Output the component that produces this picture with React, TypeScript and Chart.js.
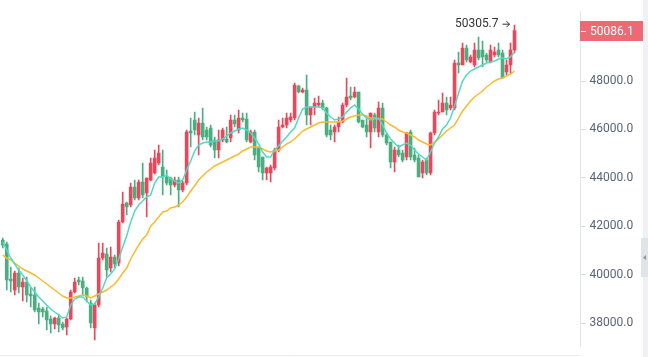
import React, { useEffect, useRef } from 'react';
import { Chart, registerables } from 'chart.js';

Chart.register(...registerables);

// ---- data ----
const opens = [
  41430, 41265, 39819, 39364, 40067, 39488, 39695, 39199, 39158, 38620,
  38579, 38496, 38166, 37959, 38207, 37959, 37835, 38166, 39282, 39777,
  39736, 39447, 38827, 37794, 38744, 40686, 40852, 40273, 40728, 40480,
  42174, 42959, 42876, 43620, 43166, 43827, 43372, 43909, 44199, 44612,
  44446, 44033, 43992, 43703, 43909, 43496, 43785, 45934, 46389, 45769,
  46265, 45975, 46058, 45562, 45149, 45562, 45604, 45645, 46389, 45975,
  46471, 46430, 45480, 45893, 45232, 44860, 44199, 44199, 44405, 45149,
  46099, 46182, 46389, 46471, 47794, 47546, 47628, 46595, 46926, 47008,
  47091, 46884, 45975, 45893, 46099, 46306, 47008, 47380, 47339, 47546,
  46389, 46182, 45893, 46595, 45893, 46884, 45769, 45480, 44653, 45149,
  45025, 44860, 45893, 44942, 44818, 44199, 44736, 44199, 45851, 46678,
  46719, 47091, 46884, 46884, 48744, 48661, 49364, 48785, 48661, 49281,
  49281, 49074, 48785, 49074, 49281, 49157, 48372, 48661, 49281,
];
const highs = [
  41513, 41348, 40315, 40149, 40273, 39860, 39901, 39488, 39488, 38827,
  38662, 38662, 38290, 38249, 38373, 38042, 38207, 39364, 39860, 39901,
  39901, 39488, 38951, 38827, 41306, 41306, 41100, 41141, 40810, 42257,
  43413, 43000, 43785, 43909, 43909, 44612, 43992, 44818, 45149, 45356,
  45149, 44323, 44033, 44033, 44033, 43868, 45975, 46471, 46719, 46471,
  46884, 46099, 46182, 45686, 45975, 46058, 46099, 46595, 46595, 46802,
  46678, 46678, 45975, 45975, 45273, 44860, 44446, 44529, 45232, 46389,
  46471, 46678, 46678, 47918, 47835, 47711, 48248, 46926, 47298, 47380,
  47215, 46926, 46182, 46182, 46512, 47091, 48124, 47753, 47753, 47546,
  46389, 46512, 46678, 46678, 47132, 47091, 45851, 45480, 45273, 45356,
  45149, 45893, 45975, 45232, 44942, 44736, 44818, 45893, 46802, 47215,
  47504, 47339, 47339, 48868, 49198, 49570, 49488, 49074, 49570, 49818,
  49650, 49157, 49488, 49405, 49570, 49281, 48868, 49570, 50305.7,
];
const lows = [
  41100, 39364, 39282, 39158, 39240, 38910, 38868, 38662, 38455, 37959,
  38249, 37711, 37587, 37753, 37629, 37711, 37505, 38125, 39240, 39571,
  39116, 38868, 37794, 37298, 38662, 40604, 39901, 40108, 40273, 40356,
  42133, 42463, 42794, 43083, 43083, 43166, 42381, 43868, 44157, 44529,
  43290, 43703, 43290, 43620, 42794, 43413, 43703, 45273, 45769, 44942,
  45562, 45562, 45273, 44818, 44818, 45480, 45438, 45480, 46099, 45851,
  46306, 45480, 45438, 44736, 44240, 43909, 43909, 43827, 44323, 45066,
  46058, 46058, 46306, 46389, 47504, 47504, 46182, 46182, 46595, 46926,
  46802, 45686, 45562, 45480, 45893, 46265, 46926, 47215, 47298, 46265,
  46058, 45686, 45232, 45893, 45686, 45686, 45356, 44405, 44240, 44860,
  44653, 44736, 44736, 44653, 44033, 43992, 44116, 44116, 45769, 46595,
  46719, 46595, 46802, 46802, 48331, 48661, 48785, 48744, 48579, 48868,
  48579, 48785, 48744, 48992, 48992, 48124, 48248, 48331, 49157,
];
const closes = [
  41224, 39777, 39736, 40067, 39488, 39695, 39158, 39116, 38538, 38455,
  38455, 38125, 37959, 38207, 37918, 37794, 38166, 39282, 39695, 39695,
  39447, 39075, 38001, 38744, 40686, 40893, 40191, 40728, 40439, 42174,
  42918, 42794, 43620, 43166, 43827, 43290, 43992, 44612, 44818, 45025,
  44033, 43785, 43703, 43909, 43496, 43785, 45893, 45851, 45975, 46265,
  45686, 45686, 45356, 45149, 45562, 45975, 45480, 46389, 46223, 46471,
  46389, 45562, 45893, 44942, 44446, 44199, 44405, 44446, 45149, 46099,
  46182, 46471, 46512, 47835, 47546, 47628, 46595, 46926, 47091, 47091,
  46884, 45769, 45769, 46099, 46306, 47008, 47339, 47298, 47546, 46306,
  46099, 45893, 46678, 46058, 46884, 45769, 45438, 44653, 45149, 44942,
  44736, 45851, 44860, 44736, 44033, 44653, 44199, 45851, 46719, 46719,
  47091, 46802, 47008, 48744, 48661, 49364, 48868, 48992, 49281, 48950,
  48992, 48868, 49281, 49198, 49074, 48124, 48661, 49281, 50086.1,
];
const maFast = [
  41348, 41017, 40686, 40439, 40191, 39984, 39736, 39488, 39282, 39075,
  38910, 38744, 38579, 38455, 38331, 38207, 38249, 38744, 38992, 39075,
  39075, 38910, 38744, 38786, 39075, 39447, 39860, 40025, 40232, 40645,
  41141, 41596, 42174, 42628, 42876, 43042, 43207, 43290, 43785, 44033,
  44033, 44116, 43951, 43868, 43785, 43909, 44323, 44694, 45108, 45356,
  45438, 45480, 45480, 45521, 45521, 45604, 45727, 45851, 45934, 46017,
  46058, 45975, 45851, 45645, 45397, 45066, 44860, 44860, 45149, 45314,
  45521, 45686, 45893, 46058, 46471, 46843, 46926, 46926, 46926, 46926,
  46884, 46678, 46512, 46389, 46430, 46512, 46719, 46884, 47008, 46843,
  46636, 46471, 46389, 46430, 46471, 46182, 45851, 45604, 45438, 45273,
  45356, 45438, 45356, 45149, 44984, 44860, 44736, 45066, 45438, 45686,
  46017, 46182, 46471, 46967, 47504, 48000, 48248, 48413, 48496, 48579,
  48661, 48744, 48785, 48827, 48909, 48950, 48909, 48992, 49198,
];
const maSlow = [
  40810, 40686, 40604, 40480, 40356, 40232, 40149, 40067, 39984, 39860,
  39736, 39612, 39488, 39364, 39240, 39116, 39034, 39034, 39075, 39116,
  39158, 39116, 39034, 39116, 39199, 39282, 39364, 39488, 39612, 39819,
  40067, 40273, 40645, 40934, 41224, 41472, 41637, 42009, 42174, 42381,
  42587, 42628, 42752, 42794, 42876, 43000, 43207, 43455, 43661, 43909,
  44074, 44240, 44364, 44488, 44570, 44653, 44736, 44818, 44901, 44984,
  45108, 45190, 45273, 45273, 45273, 45190, 45108, 45066, 45108, 45149,
  45273, 45397, 45480, 45604, 45769, 45934, 46017, 46099, 46182, 46265,
  46306, 46306, 46306, 46306, 46306, 46347, 46430, 46512, 46554, 46595,
  46595, 46554, 46471, 46471, 46430, 46430, 46306, 46182, 46099, 45975,
  45893, 45851, 45769, 45686, 45562, 45480, 45397, 45356, 45480, 45604,
  45769, 45934, 46058, 46182, 46471, 46760, 46967, 47174, 47339, 47463,
  47587, 47752, 47876, 48000, 48083, 48124, 48207, 48289, 48413,
];
const yTicks = [38000, 40000, 42000, 44000, 46000, 48000];
const emptySlots = 16;
const lastPrice = 50086.1;
const highMark = 50305.7;

const categories = Array.from({ length: opens.length + emptySlots }, (_, i) => String(i + 1));

const RED = '#e8485c';
const GREEN = '#4bae81';
const TEAL = '#52d9c2';
const ORANGE = '#fcb92c';
const FONT = 'Roboto, "Noto Sans", sans-serif';

const overlay = {
  id: 'overlay',
  afterDraw(chart: any) {
    const { ctx, chartArea, scales } = chart;
    const ys = scales.y;
    const xs = scales.x;
    ctx.save();
    // bottom border
    ctx.strokeStyle = '#e9ebef';
    ctx.lineWidth = 1;
    ctx.beginPath();
    ctx.moveTo(0, 355.5);
    ctx.lineTo(chartArea.right, 355.5);
    ctx.stroke();
    // right strip + handle
    ctx.fillStyle = '#eff1f4';
    ctx.fillRect(643, 0, 5, chart.height);
    ctx.fillStyle = '#e0e3e8';
    ctx.fillRect(641, 238, 7, 39);
    ctx.fillStyle = '#8e95a1';
    ctx.beginPath();
    ctx.moveTo(643, 257.5);
    ctx.lineTo(646, 255);
    ctx.lineTo(646, 260);
    ctx.closePath();
    ctx.fill();
    // last price label
    const py = ys.getPixelForValue(lastPrice);
    const left = Math.floor(chartArea.right);
    ctx.fillStyle = '#ec6a73';
    ctx.fillRect(left, Math.round(py) - 10, 643 - left, 20);
    ctx.strokeStyle = '#ffffff';
    ctx.beginPath();
    ctx.moveTo(left + 1, Math.round(py) + 0.5);
    ctx.lineTo(left + 6, Math.round(py) + 0.5);
    ctx.stroke();
    ctx.fillStyle = '#ffffff';
    ctx.font = `12px ${FONT}`;
    ctx.textAlign = 'left';
    ctx.textBaseline = 'middle';
    ctx.fillText(lastPrice.toFixed(1), left + 10, py + 1);
    // highest mark
    const hx = xs.getPixelForValue(opens.length - 1);
    const hy = ys.getPixelForValue(highMark) - 1.5;
    ctx.fillStyle = '#333333';
    ctx.textAlign = 'right';
    ctx.fillText(highMark.toFixed(1), hx - 16, hy);
    ctx.strokeStyle = '#333333';
    ctx.beginPath();
    ctx.moveTo(hx - 12, hy + 0.5);
    ctx.lineTo(hx - 5, hy + 0.5);
    ctx.moveTo(hx - 8, hy - 2.5);
    ctx.lineTo(hx - 5, hy + 0.5);
    ctx.lineTo(hx - 8, hy + 3.5);
    ctx.stroke();
    ctx.restore();
  },
};

export default function App() {
  const ref = useRef<HTMLCanvasElement | null>(null);
  useEffect(() => {
    document.body.style.margin = '0';
    const canvas = ref.current;
    if (!canvas) return;
    const colors = opens.map((o, i) => (closes[i] >= o ? RED : GREEN));
    const chart = new Chart(canvas, {
      type: 'bar',
      data: {
        labels: categories,
        datasets: [
          {
            type: 'line',
            label: 'MA fast',
            data: maFast,
            borderColor: TEAL,
            borderWidth: 1.5,
            pointRadius: 0,
            tension: 0,
            order: 0,
          } as any,
          {
            type: 'line',
            label: 'MA slow',
            data: maSlow,
            borderColor: ORANGE,
            borderWidth: 1.5,
            pointRadius: 0,
            tension: 0,
            order: 1,
          } as any,
          {
            label: 'body',
            data: opens.map((o, i) => [o, closes[i]]),
            backgroundColor: colors,
            barThickness: 3,
            minBarLength: 1,
            grouped: false,
            order: 2,
          } as any,
          {
            label: 'wick',
            data: lows.map((l, i) => [l, highs[i]]),
            backgroundColor: colors,
            barThickness: 1,
            grouped: false,
            order: 3,
          } as any,
        ],
      },
      options: {
        responsive: false,
        animation: false,
        layout: { padding: { left: 0.5, right: 0, top: 0, bottom: 0 } },
        plugins: { legend: { display: false }, tooltip: { enabled: false } },
        scales: {
          x: { display: false, offset: true },
          y: {
            position: 'right',
            min: 36595,
            max: 51347,
            afterBuildTicks: (s: any) => {
              s.ticks = yTicks.map((v) => ({ value: v }));
            },
            afterFit: (s: any) => {
              s.width = 67.5;
            },
            grid: { drawOnChartArea: false, drawTicks: true, tickLength: 5, color: '#d6dae1' },
            border: { display: true, color: '#e2e5ea' },
            ticks: {
              padding: 4,
              color: '#5a6376',
              font: { family: FONT, size: 12 },
              callback: (v: any) => Number(v).toFixed(1),
            },
          },
        },
      } as any,
      plugins: [overlay],
    });
    // map 48000 -> y 81 and 38000 -> y 323 in the page
    const { top, bottom } = chart.chartArea;
    const ppv = (323 - 81) / 10000;
    (chart.options.scales as any).y.max = 48000 + (81 - top) / ppv;
    (chart.options.scales as any).y.min = 38000 - (bottom - 323) / ppv;
    chart.update();
    return () => chart.destroy();
  }, []);
  return <canvas ref={ref} width={648} height={357} style={{ display: 'block' }} />;
}
